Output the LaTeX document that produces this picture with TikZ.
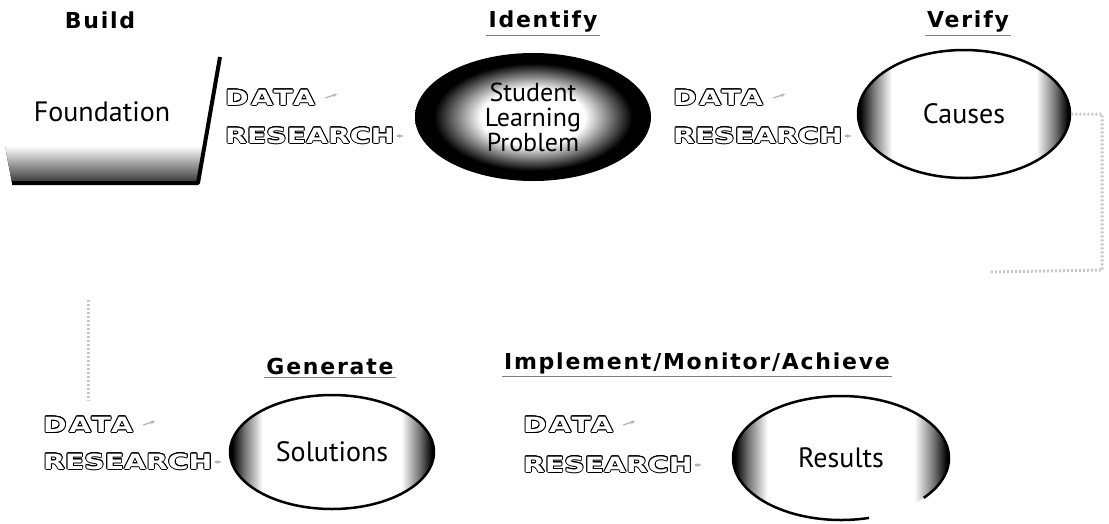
\documentclass[tikz,border=0pt]{standalone}
\usepackage{fontspec}
\setmainfont{PT Sans}
\newfontfamily\headfont[LetterSpace=8]{DejaVu Sans}
\newfontfamily\stampfont[FakeStretch=1.35]{DejaVu Sans}
\newfontfamily\stampwide[FakeStretch=1.35,LetterSpace=12]{DejaVu Sans}
\usepackage[copies]{contour}
\contourlength{0.8pt}
\usetikzlibrary{positioning,shapes.geometric,arrows.meta}
\pgfdeclareradialshading{glow}{\pgfpoint{0bp}{0bp}}{color(0bp)=(white); color(11bp)=(white); color(21bp)=(black); color(50bp)=(black)}
\pgfdeclarehorizontalshading{rimdark}{100bp}{color(0bp)=(black); color(25.5bp)=(black); color(28.5bp)=(black!55); color(33bp)=(white); color(67bp)=(white); color(71.5bp)=(black!55); color(74.5bp)=(black); color(100bp)=(black)}
\newcommand{\hollow}[1]{\contour{black}{\textcolor{white}{#1}}}
\tikzset{
  head/.style={font=\headfont\bfseries\fontsize{22}{26}\selectfont, inner sep=2pt},
  uline/.style={gray, line width=1pt},
  stage/.style={ellipse, draw=black, line width=2.5pt, shading=rimdark, font=\fontsize{28}{30}\selectfont},
  stamp/.style={font=\stampfont\bfseries\fontsize{21}{24}\selectfont, inner sep=0pt, anchor=west},
  wide/.style={font=\stampwide\bfseries\fontsize{21}{24}\selectfont},
  trail/.style={gray!45, line width=3pt, dash pattern=on 2pt off 2pt},
  tick/.style={gray!60, line width=1.2pt, -{Stealth[length=5pt]}}
}
\begin{document}
\begin{tikzpicture}[x=1pt, y=-1pt]
\useasboundingbox (0,0) rectangle (1109,523);
\fill[top color=white, bottom color=black!80] (5,146) -- (204,146) -- (198,183) -- (12,183) -- cycle;
\coordinate (fl) at (12,183);
\coordinate (fr) at (198,183);
\coordinate (ft) at (220,57);
\draw[line width=4pt, line join=round] (fl) -- (fr) -- (ft);
\node (build) [head] at (100,20) {Build};
\node (found) [font=\fontsize{28}{30}\selectfont] at (102,112) {Foundation};
\node (identify) [head] at (543,22) {Identify};
\node (verify) [head] at (968,22) {Verify};
\node (generate) [head] at (330,366) {Generate};
\node (implement) [head] at (697,363) {Implement/Monitor/Achieve};
\node (slp) [ellipse, shading=glow, minimum width=236pt, minimum height=128pt, align=center, font=\fontsize{26}{25}\selectfont] at (533,117) {Student\\Learning\\Problem};
\node (causes) [stage, minimum width=212pt, minimum height=128pt] at (964,114) {Causes};
\node (solutions) [stage, minimum width=204pt, minimum height=114pt] at (332,452) {Solutions};
\node (results) [stage, draw=none, minimum width=216pt, minimum height=124pt] at (841,458) {Results};
\draw[line width=2.5pt] (results.center) ++(-40:108pt and 62pt) arc[start angle=-40, end angle=285, x radius=108pt, y radius=62pt];
\node (data1) [stamp, wide] at (225,98) {\hollow{DATA}};
\node (res1) [stamp] at ([yshift=-38pt]data1.west) {\hollow{RESEARCH}};
\node (data2) [stamp, wide] at (673,98) {\hollow{DATA}};
\node (res2) [stamp] at ([yshift=-38pt]data2.west) {\hollow{RESEARCH}};
\node (data3) [stamp, wide] at (43,425) {\hollow{DATA}};
\node (res3) [stamp] at ([yshift=-37pt]data3.west) {\hollow{RESEARCH}};
\node (data4) [stamp, wide] at (523,425) {\hollow{DATA}};
\node (res4) [stamp] at ([yshift=-40pt]data4.west) {\hollow{RESEARCH}};
\foreach \n in {identify, verify, generate, implement}
  \draw[uline] ([yshift=-1pt]\n.south west) -- ([yshift=-1pt]\n.south east);
\foreach \n in {data1, data2, data3, data4}
  \draw[tick] ([xshift=10pt]\n.east) -- ++(12,-4);
\foreach \n in {res1, res2, res3, res4}
  \draw[tick] ([xshift=2pt]\n.east) -- ++(7,0);
\coordinate (turn) at (1102,270);
\coordinate (trailend) at (990,272);
\coordinate (trailtop) at (88,300);
\draw[trail] (causes.east) -| (turn) -- (trailend);
\draw[trail, shorten >=16pt] (trailtop) -- (data3.north -| trailtop);
\end{tikzpicture}
\end{document}
